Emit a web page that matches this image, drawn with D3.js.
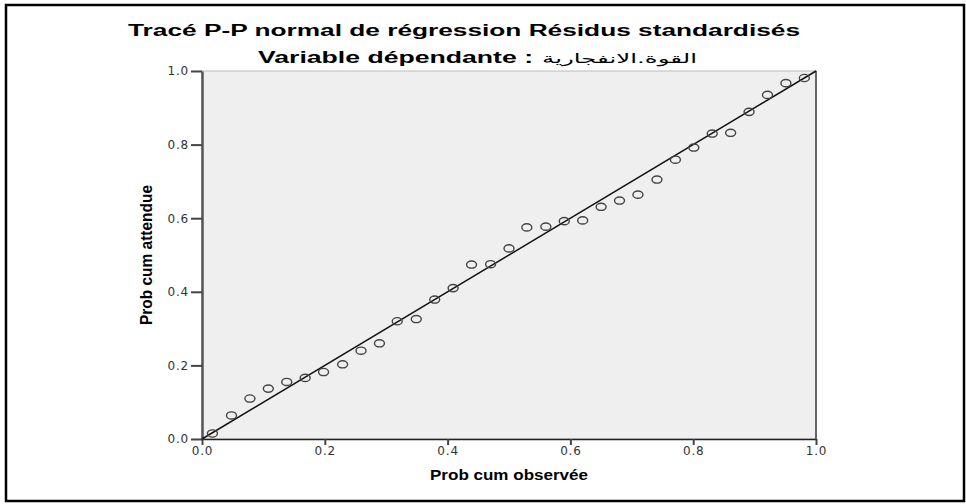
<!DOCTYPE html>
<html lang="fr">
  <head>
    <meta charset="UTF-8" />
    <title>Tracé P-P normal</title>
    <script src="https://cdn.jsdelivr.net/npm/d3@7/dist/d3.min.js"></script>
    <style>
      body { margin: 0; background: #fff; }
      svg { display: block; }
    </style>
  </head>
  <body>
    <div id="chart"></div>
    <script>
      var probObs = [0.017, 0.048, 0.078, 0.108, 0.138, 0.168, 0.198, 0.229, 0.259, 0.289,
                     0.318, 0.349, 0.379, 0.409, 0.439, 0.470, 0.500, 0.529, 0.560, 0.590,
                     0.620, 0.650, 0.680, 0.710, 0.741, 0.771, 0.801, 0.831, 0.861, 0.891,
                     0.921, 0.951, 0.981];
      var probExp = [0.015, 0.064, 0.110, 0.137, 0.155, 0.166, 0.182, 0.203, 0.240, 0.260,
                     0.320, 0.326, 0.379, 0.410, 0.474, 0.475, 0.518, 0.575, 0.577, 0.592,
                     0.594, 0.631, 0.648, 0.664, 0.705, 0.759, 0.792, 0.830, 0.832, 0.889,
                     0.935, 0.967, 0.981];
      var tickValues = [0, 0.2, 0.4, 0.6, 0.8, 1.0];

      var width = 966;
      var height = 504;
      var margin = { top: 71, right: 150, bottom: 65, left: 202 };
      var plotW = width - margin.left - margin.right;
      var plotH = height - margin.top - margin.bottom;

      var svg = d3.select("#chart")
                  .append("svg")
                  .attr("width", width)
                  .attr("height", height);

      // outer frame
      svg.append("rect")
         .attr("x", 6).attr("y", 5)
         .attr("width", 958).attr("height", 496)
         .attr("fill", "none")
         .attr("stroke", "#000")
         .attr("stroke-width", 2.5);

      var xScale = d3.scaleLinear().domain([0, 1]).range([0, plotW]);
      var yScale = d3.scaleLinear().domain([0, 1]).range([plotH, 0]);

      var g = svg.append("g")
                 .attr("transform", "translate(" + margin.left + "," + margin.top + ")");

      g.append("rect")
       .attr("width", plotW).attr("height", plotH)
       .attr("fill", "#efefef")
       .attr("stroke", "#bbb")
       .attr("stroke-width", 1);

      // right border of plot, darker
      g.append("line")
       .attr("x1", plotW).attr("x2", plotW)
       .attr("y1", 0).attr("y2", plotH)
       .attr("stroke", "#666").attr("stroke-width", 2);

      var xAxis = d3.axisBottom(xScale)
                    .tickValues(tickValues)
                    .tickFormat(d3.format(".1f"))
                    .tickSize(6)
                    .tickSizeOuter(0);
      var yAxis = d3.axisLeft(yScale)
                    .tickValues(tickValues)
                    .tickFormat(d3.format(".1f"))
                    .tickSize(11)
                    .tickSizeOuter(0);

      var gx = g.append("g")
                .attr("transform", "translate(0," + plotH + ")")
                .call(xAxis);
      var gy = g.append("g").call(yAxis);

      gx.select(".domain").attr("stroke", "#222").attr("stroke-width", 1.5);
      gy.select(".domain").attr("stroke", "#555").attr("stroke-width", 2.5);
      g.selectAll(".tick line").attr("stroke", "#444").attr("stroke-width", 2);
      g.selectAll(".tick text")
       .attr("font-family", "'DejaVu Sans', sans-serif")
       .attr("font-size", "12px")
       .attr("letter-spacing", "0.8px")
       .attr("fill", "#333");
      gx.selectAll(".tick text").attr("dy", "0.6em").attr("y", 9);
      gy.selectAll(".tick text").attr("x", -13);

      // reference diagonal
      g.append("line")
       .attr("x1", xScale(0)).attr("y1", yScale(0))
       .attr("x2", xScale(1)).attr("y2", yScale(1))
       .attr("stroke", "#111")
       .attr("stroke-width", 1.5);

      var pts = probObs.map(function(d, i) { return { x: d, y: probExp[i] }; });
      g.selectAll("ellipse.pt")
       .data(pts)
       .enter()
       .append("ellipse")
       .attr("class", "pt")
       .attr("cx", function(d) { return xScale(d.x); })
       .attr("cy", function(d) { return yScale(d.y); })
       .attr("rx", 5)
       .attr("ry", 3.6)
       .attr("fill", "none")
       .attr("stroke", "#444")
       .attr("stroke-width", 1.4);

      // titles
      svg.append("text")
         .attr("x", 464).attr("y", 36)
         .attr("text-anchor", "middle")
         .attr("font-family", "Arial, 'Liberation Sans', sans-serif")
         .attr("font-weight", "bold")
         .attr("font-size", "16px")
         .attr("textLength", 672)
         .attr("lengthAdjust", "spacingAndGlyphs")
         .text("Tracé P-P normal de régression Résidus standardisés");

      svg.append("text")
         .attr("x", 258).attr("y", 63)
         .attr("font-family", "Arial, 'Liberation Sans', sans-serif")
         .attr("font-weight", "bold")
         .attr("font-size", "16px")
         .attr("textLength", 275)
         .attr("lengthAdjust", "spacingAndGlyphs")
         .text("Variable dépendante :");

      svg.append("text")
         .attr("x", 542).attr("y", 63)
         .attr("text-anchor", "start")
         .attr("font-family", "'DejaVu Sans', sans-serif")
         .attr("font-size", "13px")
         .attr("textLength", 155)
         .attr("lengthAdjust", "spacingAndGlyphs")
         .text("القوة.الانفجارية");

      // axis titles
      svg.append("text")
         .attr("x", 509).attr("y", 480)
         .attr("text-anchor", "middle")
         .attr("font-family", "Arial, 'Liberation Sans', sans-serif")
         .attr("font-weight", "bold")
         .attr("font-size", "14px")
         .attr("textLength", 158)
         .attr("lengthAdjust", "spacingAndGlyphs")
         .text("Prob cum observée");

      svg.append("text")
         .attr("transform", "translate(152,255) rotate(-90)")
         .attr("text-anchor", "middle")
         .attr("font-family", "Arial, 'Liberation Sans', sans-serif")
         .attr("font-weight", "bold")
         .attr("font-size", "16px")
         .attr("textLength", 140)
         .attr("lengthAdjust", "spacingAndGlyphs")
         .text("Prob cum attendue");
    </script>
  </body>
</html>
